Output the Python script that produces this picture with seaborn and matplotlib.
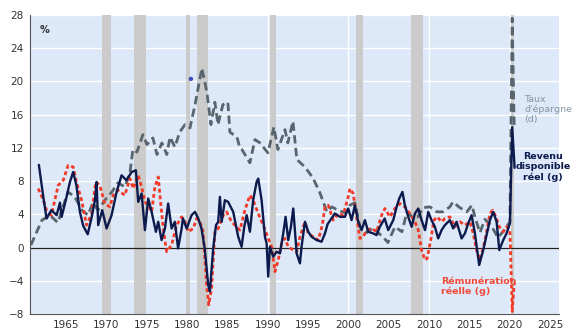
import matplotlib
matplotlib.use("Agg")
import matplotlib.pyplot as plt
import seaborn as sns
import numpy as np

# ---- data ----
sav_year = [1960.66, 1962.03, 1963.02, 1964.0, 1965.25, 1966.1, 1966.98, 1967.73, 1968.35, 1968.97,
            1969.83, 1970.7, 1971.44, 1972.31, 1972.93, 1973.3, 1973.8, 1974.54, 1975.04, 1975.78,
            1976.28, 1976.9, 1977.5, 1977.9, 1978.5, 1979.1, 1979.75, 1980.37, 1981.0, 1981.85,
            1982.47, 1982.97, 1983.46, 1983.84, 1984.45, 1985.07, 1985.32, 1986.19, 1986.56, 1986.81,
            1987.8, 1988.42, 1989.04, 1990.03, 1990.77, 1991.27, 1992.14, 1992.5, 1993.13, 1993.62,
            1994.62, 1995.6, 1996.47, 1997.34, 1997.96, 1998.7, 1999.57, 2000.19, 2000.81, 2001.43,
            2002.3, 2003.04, 2003.66, 2004.28, 2004.9, 2005.77, 2006.64, 2007.26, 2007.88, 2008.62,
            2009.24, 2010.1, 2010.97, 2011.7, 2012.58, 2012.95, 2013.82, 2014.69, 2015.31, 2015.68,
            2016.3, 2016.92, 2017.79, 2018.53, 2019.15, 2020.02, 2020.3, 2020.55]
sav_val = [0.3, 3.3, 3.9, 3.0, 6.7, 6.1, 4.5, 3.9, 5.4, 4.5,
           5.7, 6.7, 7.8, 7.3, 9.0, 11.8, 11.5, 13.6, 12.4, 13.2,
           11.2, 12.6, 11.2, 13.3, 12.1, 13.9, 14.8, 14.4, 17.2, 21.6,
           18.7, 14.8, 17.5, 14.8, 17.2, 17.5, 13.9, 13.3, 12.0, 11.8,
           10.2, 13.0, 12.6, 11.4, 14.5, 11.8, 14.2, 12.6, 15.2, 10.6,
           9.7, 8.4, 6.6, 4.3, 4.9, 4.5, 4.2, 5.1, 5.4, 2.5,
           1.8, 2.4, 1.8, 1.3, 0.6, 2.5, 1.9, 4.3, 3.7, 3.7,
           4.8, 4.9, 4.3, 4.3, 4.9, 5.5, 4.8, 4.3, 5.1, 3.7,
           1.8, 3.4, 2.5, 1.2, 1.9, 3.1, 27.6, 14.3]

inc_year = [1961.65, 1962.2, 1962.6, 1963.2, 1963.85, 1964.26, 1964.47, 1965.08, 1965.5, 1965.9,
            1966.3, 1966.73, 1967.15, 1967.7, 1968.2, 1968.6, 1968.8, 1969.0, 1969.5, 1970.04,
            1970.66, 1971.28, 1971.9, 1972.5, 1973.14, 1973.67, 1973.96, 1974.38, 1974.79, 1975.2,
            1975.62, 1976.15, 1976.44, 1976.85, 1977.27, 1977.67, 1978.1, 1978.5, 1978.9, 1979.34,
            1979.5, 1979.96, 1980.57, 1981.0, 1981.4, 1981.8, 1982.2, 1982.63, 1982.84, 1983.25,
            1983.6, 1983.87, 1984.08, 1984.3, 1984.7, 1985.1, 1985.73, 1986.35, 1986.77, 1987.1,
            1987.4, 1987.8, 1988.2, 1988.63, 1988.83, 1989.25, 1989.66, 1989.87, 1990.07, 1990.28,
            1990.69, 1991.1, 1991.52, 1991.93, 1992.22, 1992.55, 1992.88, 1993.17, 1993.59, 1994.0,
            1994.2, 1994.62, 1995.03, 1995.44, 1996.06, 1996.68, 1997.1, 1997.42, 1997.9, 1998.33,
            1998.95, 1999.57, 1999.98, 2000.4, 2000.81, 2001.22, 2001.64, 2002.05, 2002.46, 2003.08,
            2003.5, 2003.9, 2004.5, 2004.94, 2005.56, 2005.98, 2006.3, 2006.7, 2007.0, 2007.42,
            2007.84, 2008.25, 2008.66, 2009.07, 2009.5, 2009.9, 2010.3, 2010.72, 2011.13, 2011.55,
            2011.96, 2012.58, 2012.99, 2013.41, 2014.03, 2014.44, 2014.85, 2015.27, 2015.68, 2016.21,
            2016.71, 2017.13, 2017.54, 2017.95, 2018.37, 2018.7, 2019.19, 2019.6, 2020.02, 2020.3,
            2020.6]
inc_val = [9.95, 6.1, 3.5, 4.5, 3.9, 5.4, 3.7, 6.1, 7.9, 9.1,
           7.5, 4.3, 2.6, 1.6, 3.7, 5.7, 7.9, 2.7, 4.5, 2.3,
           3.9, 6.7, 8.7, 8.1, 9.1, 9.3, 5.5, 6.5, 2.1, 5.9,
           4.3, 1.9, 3.1, 0.9, 2.3, 5.3, 2.3, 3.1, -0.1, 2.3,
           3.5, 2.3, 3.9, 4.3, 3.5, 2.3, -0.1, -4.5, -5.3, -0.1,
           2.7, 3.1, 6.1, 3.1, 5.7, 5.5, 4.3, 1.3, 0.1, 2.5,
           3.9, 1.9, 5.7, 7.9, 8.3, 5.7, 1.3, 0.5, -3.5, 0.1,
           -1.1, -0.5, -0.7, 1.7, 3.7, 0.9, 2.5, 4.7, -0.7, -1.9,
           0.1, 3.1, 1.9, 1.3, 0.9, 0.7, 1.7, 2.8, 3.5, 4.1,
           3.7, 3.7, 4.7, 3.3, 5.1, 3.1, 2.1, 3.3, 1.9, 1.7,
           1.5, 2.5, 3.5, 2.1, 3.3, 4.9, 5.9, 6.7, 5.1, 3.7,
           2.5, 4.1, 4.7, 3.3, 2.1, 4.3, 3.3, 2.5, 1.1, 2.1,
           2.7, 3.3, 2.3, 3.1, 1.1, 1.7, 2.9, 3.9, 1.7, -2.1,
           -0.3, 1.5, 3.3, 4.3, 3.1, -0.3, 0.9, 1.7, 2.9, 14.5,
           9.6]

wage_year = [1961.57, 1962.2, 1962.6, 1963.2, 1964.05, 1964.67, 1965.28, 1965.9, 1966.3, 1966.94,
             1967.56, 1968.2, 1968.7, 1969.2, 1969.8, 1970.45, 1970.86, 1971.48, 1972.3, 1972.93,
             1973.34, 1973.96, 1974.38, 1974.79, 1975.2, 1975.62, 1976.03, 1976.44, 1976.73, 1977.06,
             1977.48, 1978.1, 1978.72, 1979.34, 1979.75, 1980.16, 1980.78, 1981.2, 1981.6, 1982.0,
             1982.43, 1982.7, 1983.05, 1983.46, 1983.87, 1984.5, 1984.9, 1985.53, 1986.15, 1986.56,
             1987.18, 1987.8, 1988.2, 1988.83, 1989.45, 1990.07, 1990.49, 1990.9, 1991.31, 1991.73,
             1992.14, 1992.55, 1993.17, 1993.59, 1994.0, 1994.62, 1995.03, 1995.65, 1996.27, 1996.77,
             1997.1, 1997.5, 1998.12, 1998.74, 1999.36, 1999.98, 2000.19, 2000.6, 2001.02, 2001.43,
             2001.84, 2002.26, 2002.88, 2003.5, 2004.12, 2004.53, 2005.15, 2005.77, 2006.39, 2007.0,
             2007.63, 2008.25, 2008.66, 2009.07, 2009.5, 2009.77, 2010.2, 2010.6, 2011.0, 2011.55,
             2011.96, 2012.58, 2013.2, 2013.82, 2014.44, 2015.06, 2015.47, 2015.89, 2016.21, 2016.71,
             2017.13, 2017.54, 2017.87, 2018.28, 2018.7, 2019.19, 2019.6, 2020.02, 2020.3, 2020.55]
wage_val = [7.1, 5.7, 4.5, 3.9, 7.5, 8.1, 9.9, 9.7, 7.9, 5.7,
            2.7, 4.1, 7.9, 7.5, 5.3, 4.9, 6.3, 6.9, 6.3, 8.3,
            7.1, 8.7, 7.3, 5.5, 5.1, 4.3, 7.3, 8.5, 5.5, 2.3,
            -0.5, 0.3, 2.7, 3.7, 3.1, 1.9, 2.3, 3.5, 3.1, 1.9,
            -4.5, -6.9, -4.9, 1.9, 2.3, 3.9, 4.3, 3.1, 2.5, 2.1,
            4.5, 6.3, 5.7, 4.1, 2.7, 1.1, 0.1, -2.9, -1.5, 0.5,
            1.1, 0.1, -0.3, -0.5, 1.3, 3.1, 1.7, 1.3, 0.9, 2.7,
            4.9, 5.1, 3.3, 4.1, 3.9, 6.1, 7.1, 6.5, 3.7, 1.1,
            1.3, 2.1, 2.3, 1.9, 3.9, 4.7, 3.7, 4.7, 5.3, 4.9,
            4.1, 3.1, 2.1, -0.3, -1.5, -1.3, 0.9, 3.3, 3.7, 3.1,
            3.5, 3.7, 2.5, 3.1, 2.7, 3.1, 1.7, -0.3, -1.5, -0.1,
            1.9, 4.1, 4.5, 3.7, 2.5, 1.9, 2.5, 2.1, -7.7, -4.3]

stray_year = [1980.49]
stray_val = [20.3]

recessions = [(1969.5, 1970.6), (1973.43, 1974.88), (1979.87, 1980.37), (1981.3, 1982.63),
              (1990.28, 1990.98), (2000.93, 2001.77), (2007.75, 2009.28), (2020.1, 2020.5)]

y_ticks = [-8, -4, 0, 4, 8, 12, 16, 20, 24, 28]
x_major = [1965, 1970, 1975, 1980, 1985, 1990, 1995, 2000, 2005, 2010, 2015, 2020, 2025]

# ---- style ----
sns.set_style("white")
plt.rcParams['font.family'] = ['DejaVu Sans']

fig = plt.figure(figsize=(5.75, 3.31), dpi=100)
ax = fig.add_axes([30/575, 1 - 314/331, (559 - 30)/575, (314 - 15)/331])
ax.set_facecolor("#dde9f8")

ax.set_xlim(1960.55, 2026.1)
ax.set_ylim(-8, 28)

# grid
for yv in y_ticks:
    ax.axhline(yv, color="white", lw=1.0, zorder=0.5)
for xv in [1970, 1980, 1990, 2000, 2010, 2020]:
    ax.axvline(xv, color="white", lw=1.0, zorder=0.5)

for a, b in recessions:
    ax.axvspan(a, b, color="#cbcbcb", lw=0, zorder=0.8)

ax.axhline(0, color="#222222", lw=0.9, zorder=1)

sns.lineplot(x=sav_year, y=sav_val, ax=ax, color="#56656e", lw=2.0,
             linestyle=(0, (3.0, 1.6)), estimator=None, sort=False, zorder=2)
sns.lineplot(x=wage_year, y=wage_val, ax=ax, color="#f23a28", lw=2.0,
             linestyle=(0, (1.4, 1.0)), estimator=None, sort=False, zorder=3)
sns.lineplot(x=inc_year, y=inc_val, ax=ax, color="#0c1a4d", lw=1.7,
             estimator=None, sort=False, zorder=4)
sns.scatterplot(x=stray_year, y=stray_val, ax=ax, color="#3b4cc0", s=10, edgecolor="none", zorder=5)

# axes styling
for s in ["top", "right"]:
    ax.spines[s].set_visible(False)
for s in ["left", "bottom"]:
    ax.spines[s].set_color("#555555")
    ax.spines[s].set_linewidth(0.8)

ax.set_yticks(y_ticks)
ax.set_xticks(x_major)
ax.set_xticks(list(range(1961, 2027)), minor=True)
ax.tick_params(axis="both", which="both", direction="out", color="#555555", labelcolor="#333333",
               labelsize=7.5, length=3, width=0.8, pad=1.5)
ax.tick_params(axis="x", which="minor", length=2.5)
ax.set_xlabel("")
ax.set_ylabel("")

# texts
ax.text(0.019, 0.95, "%", transform=ax.transAxes, fontsize=7, color="#333333",
        fontweight="bold", va="center")
ax.text(2021.8, 18.4, "Taux\nd'épargne\n(d)", fontsize=6.8, color="#8495a2",
        ha="left", va="top", linespacing=1.15, clip_on=False)
ax.text(2024.1, 11.5, "Revenu\ndisponible\nréel (g)", fontsize=6.8, color="#0c1a4d",
        ha="center", va="top", fontweight="bold", linespacing=1.15, clip_on=False)
ax.text(2011.5, -3.5, "Rémunération\nréelle (g)", fontsize=6.8, color="#f04a3a",
        ha="left", va="top", fontweight="bold", linespacing=1.15)

fig.savefig("out.png", dpi=100)
